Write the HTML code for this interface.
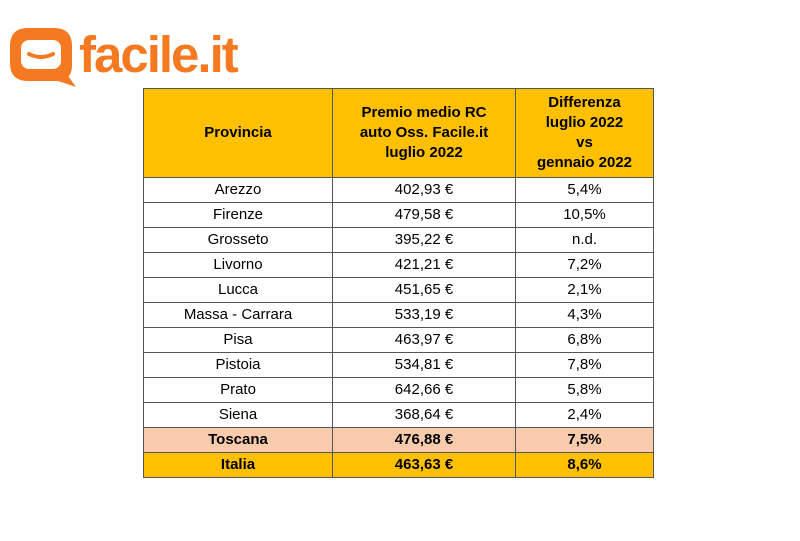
<!DOCTYPE html>
<html><head><meta charset="utf-8"><style>
body{margin:0;width:800px;height:541px;background:#fff;position:relative;overflow:hidden;font-family:"Liberation Sans",sans-serif}
table{position:absolute;left:143px;top:88px;border-collapse:collapse;font-size:15px;color:#000;table-layout:fixed;width:510px}
td{border:1px solid #555;text-align:center;padding:0;height:24px;line-height:24px;overflow:hidden;white-space:nowrap}
th{background:#ffc000;border:1px solid #555;font-weight:bold;height:88px;line-height:20px;font-size:15px;padding:0}
.t td{background:#f8cbad;font-weight:bold}
.i td{background:#ffc000;font-weight:bold}
</style></head><body>
<svg style="position:absolute;left:6px;top:25px" width="72" height="64" viewBox="0 0 72 64">
<path d="M22 3 H48 Q66 3 66 21 V40 Q66 56 50 56 H22 Q4 56 4 38 V21 Q4 3 22 3 Z" fill="#f47920"/>
<path d="M60 48 L70 62 L46 54 Z" fill="#f47920"/>
<rect x="15" y="15" width="40" height="29" rx="8" fill="#fff"/>
<path d="M23 29 Q35 35 47 29" stroke="#f47920" stroke-width="4" fill="none" stroke-linecap="round"/>
</svg>
<div style="position:absolute;left:79px;top:26px;font-size:51px;font-weight:bold;color:#f47920;letter-spacing:-2px;line-height:58px">facile.it</div>
<table>
<colgroup><col style="width:189px"><col style="width:183px"><col style="width:138px"></colgroup>
<tr><th>Provincia</th><th>Premio medio RC<br>auto Oss. Facile.it<br>luglio 2022</th><th>Differenza<br>luglio 2022<br>vs<br>gennaio 2022</th></tr>
<tr><td>Arezzo</td><td>402,93 €</td><td>5,4%</td></tr>
<tr><td>Firenze</td><td>479,58 €</td><td>10,5%</td></tr>
<tr><td>Grosseto</td><td>395,22 €</td><td>n.d.</td></tr>
<tr><td>Livorno</td><td>421,21 €</td><td>7,2%</td></tr>
<tr><td>Lucca</td><td>451,65 €</td><td>2,1%</td></tr>
<tr><td>Massa - Carrara</td><td>533,19 €</td><td>4,3%</td></tr>
<tr><td>Pisa</td><td>463,97 €</td><td>6,8%</td></tr>
<tr><td>Pistoia</td><td>534,81 €</td><td>7,8%</td></tr>
<tr><td>Prato</td><td>642,66 €</td><td>5,8%</td></tr>
<tr><td>Siena</td><td>368,64 €</td><td>2,4%</td></tr>
<tr class="t"><td>Toscana</td><td>476,88 €</td><td>7,5%</td></tr>
<tr class="i"><td>Italia</td><td>463,63 €</td><td>8,6%</td></tr>
</table>
</body></html>
